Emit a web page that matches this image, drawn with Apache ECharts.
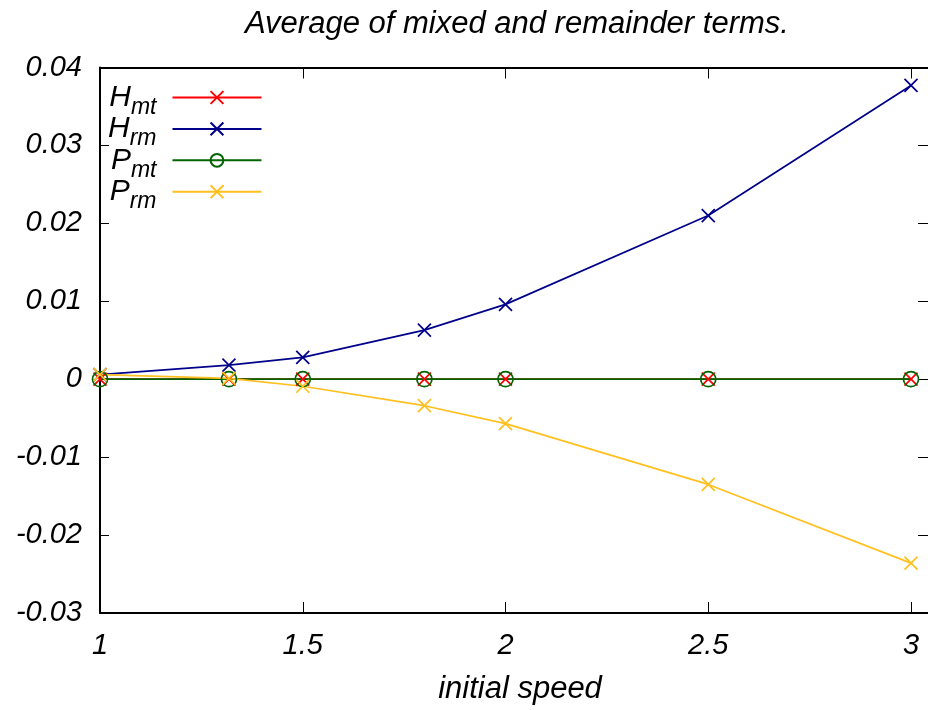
<!DOCTYPE html>
<html><head><meta charset="utf-8">
<script src="https://cdn.jsdelivr.net/npm/echarts@6/dist/echarts.min.js"></script>
<style>html,body{margin:0;padding:0;background:#fff}#c{width:928px;height:710px}</style>
</head><body><div id="c"></div>
<script>
// ---- data ----
const speeds = [1, 1.318, 1.5, 1.8, 2, 2.5, 3];
const Hmt = [0, 0, 0, 0, 0, 0, 0];
const Hrm = [0.0006, 0.0018, 0.0028, 0.0063, 0.0096, 0.0210, 0.0377];
const Pmt = [0, 0, 0, 0, 0, 0, 0];
const Prm = [0.0006, 0.0001, -0.0009, -0.0034, -0.0057, -0.0135, -0.0236];
const xTicks = [1, 1.5, 2, 2.5, 3];
const yTicks = [-0.03, -0.02, -0.01, 0, 0.01, 0.02, 0.03, 0.04];
const seriesNames = ['H_mt', 'H_rm', 'P_mt', 'P_rm'];
const legendLabels = {
  'H_mt': ['H', 'mt'], 'H_rm': ['H', 'rm'], 'P_mt': ['P', 'mt'], 'P_rm': ['P', 'rm']
};
const titleText = 'Average of mixed and remainder terms.';
const xName = 'initial speed';

const FONT = 'Liberation Sans';
const XPATH = 'path://M0,0L10,10M10,0L0,10';
const X_MAX = 1 + 828 / 405.5;
const pts = v => speeds.map((x, i) => [x, v[i]]);

function mkSeries(name, vals, color, symbol, size) {
  return {
    name, type: 'line', data: pts(vals),
    symbol, symbolSize: size, showAllSymbol: true,
    lineStyle: { color, width: 1.7 },
    itemStyle: { color: 'none', borderColor: color, borderWidth: 1.7 },
    emphasis: { disabled: true },
    animation: false
  };
}

const chart = echarts.init(document.getElementById('c'), null, { renderer: 'canvas' });
const axisLine = { show: true, onZero: false, lineStyle: { color: '#000', width: 2 } };
chart.setOption({
  backgroundColor: '#fff',
  animation: false,
  title: {
    text: titleText, left: 240, top: 4,
    textStyle: { fontFamily: FONT, fontStyle: 'italic', fontWeight: 'normal', fontSize: 31, color: '#000' }
  },
  grid: { left: 100, top: 67.5, width: 828, height: 546.5, containLabel: false },
  legend: {
    orient: 'vertical', align: 'right', left: 108, top: 76, padding: 0,
    itemWidth: 89, itemHeight: 16, itemGap: -11.6,
    data: seriesNames,
    formatter: n => '{b|' + legendLabels[n][0] + '}{s|' + legendLabels[n][1] + '}',
    textStyle: {
      fontFamily: FONT, color: '#000',
      rich: {
        b: { fontFamily: FONT, fontStyle: 'italic', fontSize: 30, lineHeight: 24, color: '#000' },
        s: { fontFamily: FONT, fontStyle: 'italic', fontSize: 23, lineHeight: 14, padding: [20, 11, 0, 0], color: '#000' }
      }
    }
  },
  xAxis: [{
    type: 'value', min: 1, max: X_MAX, position: 'bottom',
    name: xName, nameLocation: 'middle', nameGap: 61,
    nameTextStyle: { fontFamily: FONT, fontStyle: 'italic', fontSize: 31, color: '#000', padding: [0, 0, 0, 12] },
    axisLine,
    axisTick: { show: true, inside: true, length: 11, customValues: xTicks, lineStyle: { color: '#000', width: 1 } },
    axisLabel: { customValues: xTicks, margin: 18, fontFamily: FONT, fontStyle: 'italic', fontSize: 29, color: '#000',
      formatter: v => String(Number(v.toFixed(2))) },
    splitLine: { show: false }
  }, {
    type: 'value', min: 1, max: X_MAX, position: 'top',
    axisLine,
    axisTick: { show: true, inside: true, length: 11, customValues: xTicks, lineStyle: { color: '#000', width: 1 } },
    axisLabel: { show: false }, splitLine: { show: false }
  }],
  yAxis: [{
    type: 'value', min: -0.03, max: 0.04, position: 'left',
    axisLine,
    axisTick: { show: true, inside: true, length: 9, customValues: yTicks, lineStyle: { color: '#000', width: 1 } },
    axisLabel: { customValues: yTicks, margin: 18, fontFamily: FONT, fontStyle: 'italic', fontSize: 29, color: '#000',
      formatter: v => String(Number(v.toFixed(2))) },
    splitLine: { show: false }
  }, {
    type: 'value', min: -0.03, max: 0.04, position: 'right',
    axisLine: { show: false },
    axisTick: { show: true, inside: true, length: 10, customValues: yTicks, lineStyle: { color: '#000', width: 1 } },
    axisLabel: { show: false }, splitLine: { show: false }
  }],
  series: [
    mkSeries('H_mt', Hmt, '#ff0000', XPATH, 13),
    mkSeries('H_rm', Hrm, '#00008b', XPATH, 13),
    mkSeries('P_mt', Pmt, '#006400', 'circle', 15),
    mkSeries('P_rm', Prm, '#ffc020', XPATH, 13)
  ]
});
</script>
</body></html>
